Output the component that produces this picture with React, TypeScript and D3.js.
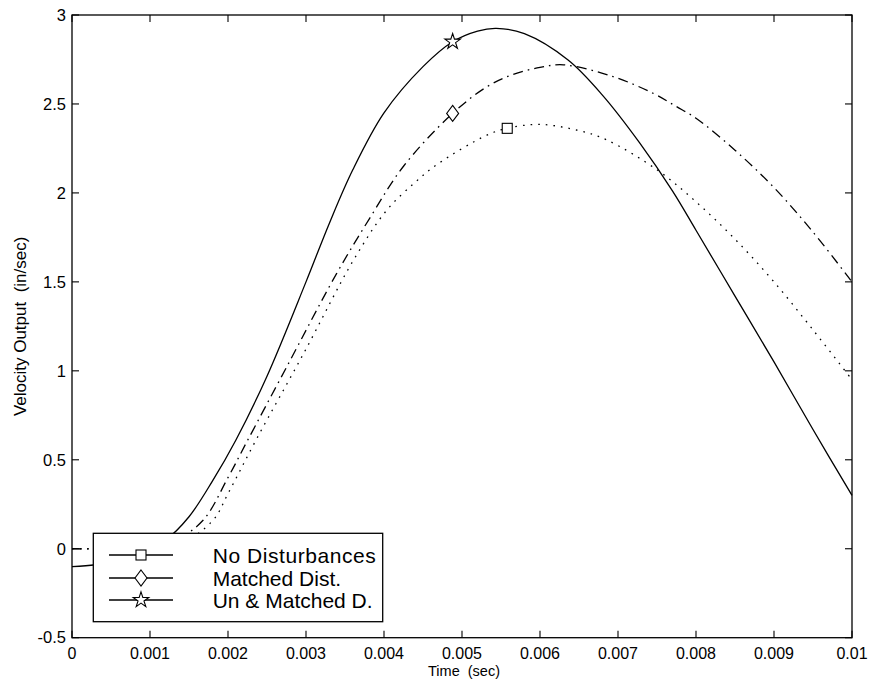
import React from 'react';
import * as d3 from 'd3';

// chart values
const xTicks = [0, 0.001, 0.002, 0.003, 0.004, 0.005, 0.006, 0.007, 0.008, 0.009, 0.01];
const xTickLabels = ['0', '0.001', '0.002', '0.003', '0.004', '0.005', '0.006', '0.007', '0.008', '0.009', '0.01'];
const yTicks = [-0.5, 0, 0.5, 1, 1.5, 2, 2.5, 3];
const yTickLabels = ['-0.5', '0', '0.5', '1', '1.5', '2', '2.5', '3'];

// Un & Matched D. (solid)
const unMatchedT = [0, 0.0003, 0.0006, 0.0009, 0.0012, 0.0015, 0.0018, 0.0021, 0.0025, 0.003, 0.0033, 0.0036, 0.004, 0.0045, 0.00488, 0.0052, 0.00544, 0.0058, 0.00636, 0.0068, 0.00728, 0.0077, 0.008, 0.0085, 0.009, 0.0095, 0.01];
const unMatchedV = [-0.1, -0.09, -0.06, -0.01, 0.05, 0.18, 0.38, 0.61, 0.97, 1.50, 1.83, 2.13, 2.45, 2.71, 2.85, 2.91, 2.925, 2.895, 2.747, 2.55, 2.28, 2.01, 1.79, 1.42, 1.05, 0.67, 0.30];

// Matched Dist. (dash-dot)
const matchedT = [0, 0.0005, 0.001, 0.0013, 0.00168, 0.002, 0.00224, 0.00275, 0.00339, 0.00382, 0.00425, 0.00488, 0.00532, 0.00565, 0.006, 0.0063, 0.00694, 0.00745, 0.00775, 0.008, 0.0085, 0.009, 0.0095, 0.01];
const matchedV = [0, 0, 0.005, 0.04, 0.16, 0.40, 0.60, 1.02, 1.545, 1.86, 2.15, 2.447, 2.597, 2.665, 2.705, 2.72, 2.653, 2.56, 2.485, 2.42, 2.24, 2.03, 1.78, 1.5];

// No Disturbances (dotted)
const noDistT = [0, 0.0005, 0.001, 0.0014, 0.00181, 0.002, 0.00237, 0.00297, 0.00361, 0.00403, 0.0044, 0.00468, 0.00532, 0.00558, 0.006, 0.0065, 0.00686, 0.0075, 0.008, 0.0085, 0.009, 0.0095, 0.01];
const noDistV = [0, 0, 0, 0.03, 0.161, 0.31, 0.62, 1.098, 1.623, 1.90, 2.06, 2.16, 2.325, 2.363, 2.385, 2.35, 2.297, 2.13, 1.95, 1.74, 1.50, 1.23, 0.95];

// one marker per curve
const markerT = [0.00558, 0.00488, 0.00488];
const markerV = [2.363, 2.447, 2.85];
const legendLabels = ['No Disturbances', 'Matched Dist.', 'Un & Matched D.'];

const W = 870;
const H = 687;
const plot = { left: 72, right: 852, top: 15, bottom: 637.7 };
const font = '"Liberation Sans", Arial, Helvetica, sans-serif';

const x = d3.scaleLinear().domain([0, 0.01]).range([plot.left, plot.right]);
const y = d3.scaleLinear().domain([-0.5, 3]).range([plot.bottom, plot.top]);

const line = d3.line<[number, number]>()
    .x(d => x(d[0]))
    .y(d => y(d[1]))
    .curve(d3.curveCatmullRom.alpha(0.5));

const zip = (t: number[], v: number[]) => t.map((d, i) => [d, v[i]] as [number, number]);

function marker(kind: number, cx: number, cy: number, key?: string) {
    if (kind === 0) {
        return <rect key={key} x={cx - 5} y={cy - 5} width={10} height={10} fill="white" stroke="black" strokeWidth={1.1} />;
    }
    if (kind === 1) {
        return <path key={key} d={`M${cx},${cy - 8}L${cx + 6},${cy}L${cx},${cy + 8}L${cx - 6},${cy}Z`} fill="white" stroke="black" strokeWidth={1.1} />;
    }
    return <path key={key} d={d3.symbol(d3.symbolStar, 75)() || ''} transform={`translate(${cx},${cy})`} fill="white" stroke="black" strokeWidth={1.1} />;
}

export default function App() {
    const series = [
        { d: line(zip(noDistT, noDistV)), dash: '1.6,6' },
        { d: line(zip(matchedT, matchedV)), dash: '10,5,1.6,5' },
        { d: line(zip(unMatchedT, unMatchedV)), dash: undefined },
    ];
    const tick = 7;
    const lg = { left: 93.3, top: 533.3, right: 382.7, bottom: 621.7 };
    const rows = [555, 578, 600];

    return (
        <svg width={W} height={H} style={{ position: 'absolute', left: 0, top: 0, background: 'white' }} fontFamily={font}>
            <rect x={0} y={0} width={W} height={H} fill="white" />
            {/* curves */}
            {series.map((s, i) => (
                <path key={i} d={s.d || ''} fill="none" stroke="black" strokeWidth={1.3} strokeDasharray={s.dash} />
            ))}
            {markerT.map((t, i) => marker(i, x(t), y(markerV[i]), 'm' + i))}

            {/* frame */}
            <rect x={plot.left} y={plot.top} width={plot.right - plot.left} height={plot.bottom - plot.top} fill="none" stroke="black" strokeWidth={1.3} />
            {xTicks.map((t, i) => (
                <g key={'xt' + i}>
                    <line x1={x(t)} x2={x(t)} y1={plot.bottom} y2={plot.bottom - tick} stroke="black" strokeWidth={1.1} />
                    <line x1={x(t)} x2={x(t)} y1={plot.top} y2={plot.top + tick} stroke="black" strokeWidth={1.1} />
                    <text x={x(t)} y={658.5} fontSize={16} textAnchor="middle">{xTickLabels[i]}</text>
                </g>
            ))}
            {yTicks.map((t, i) => (
                <g key={'yt' + i}>
                    <line x1={plot.left} x2={plot.left + tick} y1={y(t)} y2={y(t)} stroke="black" strokeWidth={1.1} />
                    <line x1={plot.right} x2={plot.right - tick} y1={y(t)} y2={y(t)} stroke="black" strokeWidth={1.1} />
                    <text x={66} y={y(t)} dy="0.35em" fontSize={16.5} textAnchor="end">{yTickLabels[i]}</text>
                </g>
            ))}
            <text x={(plot.left + plot.right) / 2 + 2} y={676} fontSize={14.5} textAnchor="middle" style={{ whiteSpace: 'pre' }}>Time  (sec)</text>
            <text transform={`translate(26,${(plot.top + plot.bottom) / 2}) rotate(-90)`} fontSize={17} textAnchor="middle" style={{ whiteSpace: 'pre' }}>Velocity Output  (in/sec)</text>

            {/* legend */}
            <rect x={lg.left} y={lg.top} width={lg.right - lg.left} height={lg.bottom - lg.top} fill="white" stroke="black" strokeWidth={1.3} />
            {legendLabels.map((lab, i) => (
                <g key={'lg' + i}>
                    <line x1={109} x2={173} y1={rows[i]} y2={rows[i]} stroke="black" strokeWidth={1.3} />
                    {marker(i, 141, rows[i])}
                    <text x={212.7} y={rows[i]} dy="0.36em" fontSize={21} textLength={i === 0 ? 163 : undefined}>{lab}</text>
                </g>
            ))}
        </svg>
    );
}
